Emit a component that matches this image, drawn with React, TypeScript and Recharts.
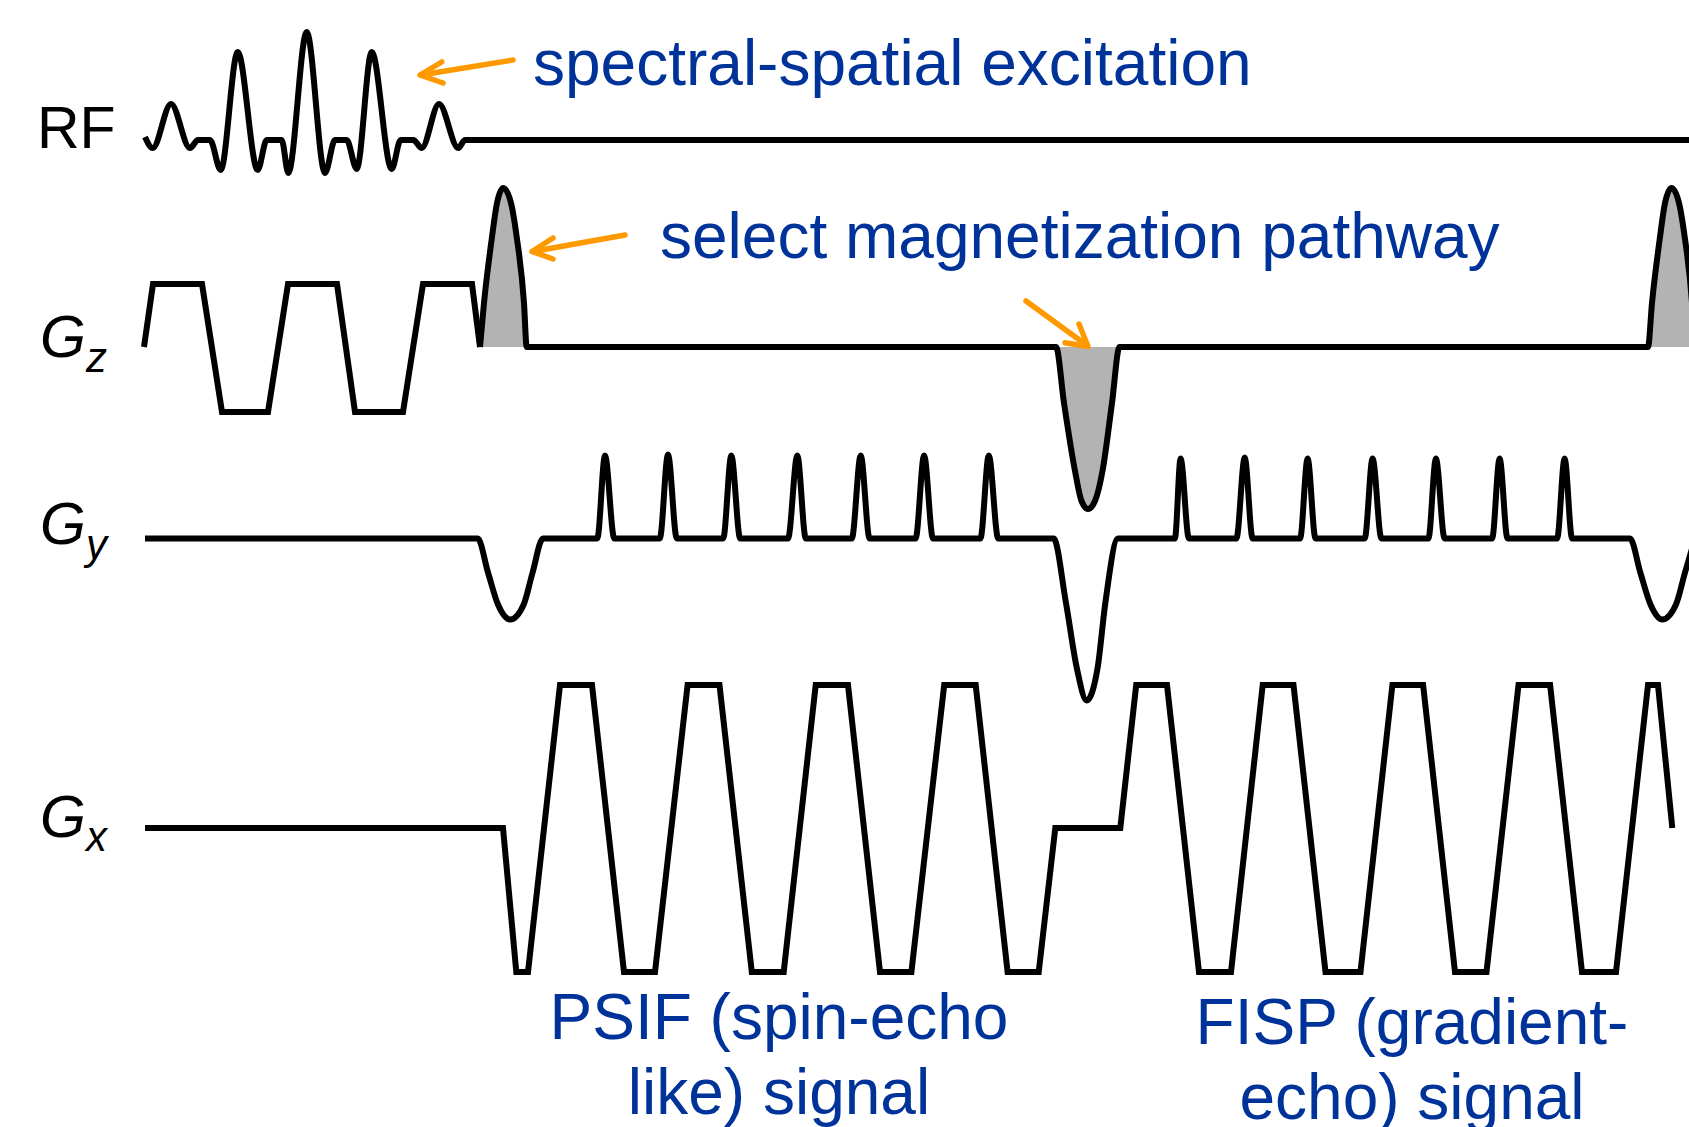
import React from 'react';
import { ComposedChart, Line, Area, XAxis, YAxis, Customized } from 'recharts';

// time axis runs in the picture's own units, amplitudes are relative to each channel's baseline (up = positive)
type Pt = { t: number; a: number };
type NotePt = { t: number; y: number };

const rfPulse: Pt[] = [
  { t: 145, a: 3 }, { t: 152.7, a: -8 }, { t: 171, a: 36 }, { t: 190, a: -8 }, { t: 198, a: 0 }, { t: 210, a: 0 },
  { t: 220.7, a: -30 }, { t: 237.7, a: 88 }, { t: 257.7, a: -30 }, { t: 266.7, a: 0 }, { t: 281.7, a: 0 },
  { t: 288.3, a: -33 }, { t: 306.7, a: 108 }, { t: 325, a: -33 }, { t: 335, a: 0 }, { t: 346.7, a: 0 },
  { t: 356.7, a: -29 }, { t: 371.7, a: 88 }, { t: 391.7, a: -29 }, { t: 400.7, a: 0 }, { t: 413.3, a: 0 },
  { t: 421.7, a: -8 }, { t: 439, a: 36 }, { t: 458.3, a: -8 }, { t: 465, a: 0 }, { t: 1689, a: 0 },
];

const gzSpectral: Pt[] = [
  { t: 144, a: 0 }, { t: 153, a: 63 }, { t: 202, a: 63 }, { t: 222, a: -65 }, { t: 268, a: -65 },
  { t: 288, a: 63 }, { t: 337, a: 63 }, { t: 355, a: -65 }, { t: 403, a: -65 }, { t: 423, a: 63 },
  { t: 472, a: 63 }, { t: 480, a: 0 },
];

const gzCrushers: Pt[] = [
  { t: 480, a: 0 }, { t: 484, a: 44 }, { t: 492, a: 110 }, { t: 497, a: 144 }, { t: 503.3, a: 159 },
  { t: 511, a: 144 }, { t: 516.7, a: 110 }, { t: 524, a: 44 }, { t: 526.7, a: 0 },
  { t: 1056, a: 0 }, { t: 1064, a: -56 }, { t: 1075, a: -124 }, { t: 1081.5, a: -154 }, { t: 1088, a: -162 },
  { t: 1095, a: -154 }, { t: 1102.5, a: -124 }, { t: 1112, a: -56 }, { t: 1119.5, a: 0 },
  { t: 1648, a: 0 }, { t: 1652, a: 44 }, { t: 1660, a: 110 }, { t: 1665, a: 144 }, { t: 1671.5, a: 159 },
  { t: 1679, a: 144 }, { t: 1684.7, a: 110 }, { t: 1692, a: 44 }, { t: 1694.7, a: 0 },
];

const gyWave: Pt[] = [
  { t: 145, a: 0 }, { t: 477.7, a: 0 }, { t: 488, a: -34 }, { t: 498, a: -66 }, { t: 510.3, a: -81 },
  { t: 523.7, a: -66 }, { t: 532.6, a: -34 }, { t: 543, a: 0 },
  { t: 597.3, a: 0 }, { t: 605, a: 83 }, { t: 614.3, a: 0 },
  { t: 659.8, a: 0 }, { t: 668, a: 84 }, { t: 676.8, a: 0 },
  { t: 723.2, a: 0 }, { t: 731.3, a: 83 }, { t: 740.2, a: 0 },
  { t: 788, a: 0 }, { t: 797.3, a: 83 }, { t: 805.8, a: 0 },
  { t: 851.8, a: 0 }, { t: 860.7, a: 83 }, { t: 869.6, a: 0 },
  { t: 915.6, a: 0 }, { t: 924.1, a: 83 }, { t: 933, a: 0 },
  { t: 980.4, a: 0 }, { t: 988.8, a: 83 }, { t: 998.2, a: 0 },
  { t: 1053.6, a: 0 }, { t: 1065.9, a: -64 }, { t: 1076.9, a: -130 }, { t: 1086.6, a: -162 },
  { t: 1097.5, a: -130 }, { t: 1105.4, a: -64 }, { t: 1118, a: 0 },
  { t: 1174.9, a: 0 }, { t: 1180.6, a: 80 }, { t: 1188.9, a: 0 },
  { t: 1236.4, a: 0 }, { t: 1244.7, a: 81 }, { t: 1252.6, a: 0 },
  { t: 1300.1, a: 0 }, { t: 1307.6, a: 80 }, { t: 1315.5, a: 0 },
  { t: 1364.7, a: 0 }, { t: 1372.6, a: 80 }, { t: 1381.4, a: 0 },
  { t: 1428.4, a: 0 }, { t: 1435.9, a: 80 }, { t: 1444.6, a: 0 },
  { t: 1492.1, a: 0 }, { t: 1499.6, a: 80 }, { t: 1507.5, a: 0 },
  { t: 1557.1, a: 0 }, { t: 1564.6, a: 80 }, { t: 1572.1, a: 0 },
  { t: 1630, a: 0 }, { t: 1640.3, a: -34 }, { t: 1650.5, a: -66 }, { t: 1662.3, a: -81 },
  { t: 1676, a: -66 }, { t: 1685, a: -34 }, { t: 1695, a: 0 },
];

const gxReadout: Pt[] = [
  { t: 145, a: 0 }, { t: 503, a: 0 }, { t: 516.3, a: -144 }, { t: 528, a: -144 },
  { t: 560, a: 143 }, { t: 592, a: 143 }, { t: 624, a: -144 }, { t: 655, a: -144 },
  { t: 687.6, a: 143 }, { t: 719.5, a: 143 }, { t: 751.8, a: -144 }, { t: 783.7, a: -144 },
  { t: 815.7, a: 143 }, { t: 848, a: 143 }, { t: 880, a: -144 }, { t: 911.4, a: -144 },
  { t: 944.2, a: 143 }, { t: 975.7, a: 143 }, { t: 1007.6, a: -144 }, { t: 1038.7, a: -144 },
  { t: 1055.3, a: 0 }, { t: 1120.3, a: 0 },
  { t: 1136.2, a: 143 }, { t: 1167, a: 143 }, { t: 1199, a: -144 }, { t: 1231, a: -144 },
  { t: 1262.7, a: 143 }, { t: 1293.5, a: 143 }, { t: 1325.5, a: -144 }, { t: 1360.5, a: -144 },
  { t: 1392.4, a: 143 }, { t: 1423.1, a: 143 }, { t: 1455, a: -144 }, { t: 1486.5, a: -144 },
  { t: 1518.5, a: 143 }, { t: 1550.1, a: 143 }, { t: 1582, a: -144 }, { t: 1616, a: -144 },
  { t: 1648, a: 143 }, { t: 1658, a: 143 }, { t: 1672.3, a: 0 },
];

// arrows, in page units (y grows downward)
const arrowRfShaft: NotePt[] = [{ t: 421, y: 75 }, { t: 513, y: 60 }];
const arrowRfHead: NotePt[] = [{ t: 441.7, y: 62 }, { t: 420, y: 75 }, { t: 443, y: 83 }];
const arrowGzShaft: NotePt[] = [{ t: 533, y: 251.5 }, { t: 625, y: 235 }];
const arrowGzHead: NotePt[] = [{ t: 553, y: 238 }, { t: 532, y: 251.5 }, { t: 553, y: 259 }];
const arrowNegShaft: NotePt[] = [{ t: 1026, y: 301 }, { t: 1087, y: 345.5 }];
const arrowNegHead: NotePt[] = [{ t: 1065, y: 342.7 }, { t: 1088, y: 346.5 }, { t: 1079, y: 324 }];

const channelNames = ['RF', 'G', 'G', 'G'];
const channelSubs = ['', 'z', 'y', 'x'];
const excitationNote = 'spectral-spatial excitation';
const pathwayNote = 'select magnetization pathway';
const psifNote = ['PSIF (spin-echo', 'like) signal'];
const fispNote = ['FISP (gradient-', 'echo) signal'];

const W = 1689;
const H = 1127;
const BASE = { rf: 140, gz: 347, gy: 538.5, gx: 828 };
const FONT = "'Liberation Sans', Arial, Helvetica, sans-serif";
const BLUE = '#003399';
const ORANGE = '#FF9900';

const Labels = () => (
  <g fontFamily={FONT}>
    <text x={37} y={147.5} fontSize={59} fill="#000">{channelNames[0]}</text>
    <text x={40} y={356.5} fontSize={59} fontStyle="italic" fill="#000">{channelNames[1]}</text>
    <text x={86} y={372} fontSize={42} fontStyle="italic" fill="#000">{channelSubs[1]}</text>
    <text x={40} y={544} fontSize={59} fontStyle="italic" fill="#000">{channelNames[2]}</text>
    <text x={86} y={559} fontSize={42} fontStyle="italic" fill="#000">{channelSubs[2]}</text>
    <text x={40} y={837} fontSize={59} fontStyle="italic" fill="#000">{channelNames[3]}</text>
    <text x={86} y={851} fontSize={42} fontStyle="italic" fill="#000">{channelSubs[3]}</text>

    <text x={533} y={85} fontSize={64} fill={BLUE}>{excitationNote}</text>
    <text x={660} y={258} fontSize={64} fill={BLUE}>{pathwayNote}</text>
    <text x={779} y={1039} fontSize={64} fill={BLUE} textAnchor="middle">{psifNote[0]}</text>
    <text x={779} y={1114} fontSize={64} fill={BLUE} textAnchor="middle">{psifNote[1]}</text>
    <text x={1412} y={1044} fontSize={64} fill={BLUE} textAnchor="middle">{fispNote[0]}</text>
    <text x={1412} y={1119} fontSize={64} fill={BLUE} textAnchor="middle">{fispNote[1]}</text>
  </g>
);

const line = {
  dataKey: 'a',
  stroke: '#000',
  strokeWidth: 6,
  dot: false,
  activeDot: false,
  isAnimationActive: false,
} as const;

const arrow = {
  dataKey: 'y',
  yAxisId: 'note',
  stroke: ORANGE,
  strokeWidth: 5.5,
  type: 'linear',
  dot: false,
  activeDot: false,
  isAnimationActive: false,
  strokeLinecap: 'round',
  strokeLinejoin: 'round',
} as const;

export default function App() {
  return (
    <div style={{ position: 'absolute', left: 0, top: 0, width: W, height: H, background: '#fff' }}>
      <ComposedChart width={W} height={H} margin={{ top: 0, right: 0, bottom: 0, left: 0 }}>
        <XAxis dataKey="t" type="number" domain={[0, W]} allowDataOverflow hide />
        <YAxis yAxisId="rf" type="number" domain={[BASE.rf - H, BASE.rf]} allowDataOverflow hide />
        <YAxis yAxisId="gz" type="number" domain={[BASE.gz - H, BASE.gz]} allowDataOverflow hide />
        <YAxis yAxisId="gy" type="number" domain={[BASE.gy - H, BASE.gy]} allowDataOverflow hide />
        <YAxis yAxisId="gx" type="number" domain={[BASE.gx - H, BASE.gx]} allowDataOverflow hide />
        <YAxis yAxisId="note" type="number" domain={[0, H]} reversed allowDataOverflow hide />

        <Area
          yAxisId="gz"
          data={gzCrushers}
          dataKey="a"
          type="monotone"
          baseValue={0}
          fill="#b3b3b3"
          fillOpacity={1}
          stroke="none"
          isAnimationActive={false}
          activeDot={false}
        />

        <Line {...line} yAxisId="rf" data={rfPulse} type="monotone" />
        <Line {...line} yAxisId="gz" data={gzSpectral} type="linear" />
        <Line {...line} yAxisId="gz" data={gzCrushers} type="monotone" />
        <Line {...line} yAxisId="gy" data={gyWave} type="monotone" />
        <Line {...line} yAxisId="gx" data={gxReadout} type="linear" />

        <Line {...arrow} data={arrowRfShaft} />
        <Line {...arrow} data={arrowRfHead} />
        <Line {...arrow} data={arrowGzShaft} />
        <Line {...arrow} data={arrowGzHead} />
        <Line {...arrow} data={arrowNegShaft} />
        <Line {...arrow} data={arrowNegHead} />

        <Customized component={<Labels />} />
      </ComposedChart>
    </div>
  );
}
